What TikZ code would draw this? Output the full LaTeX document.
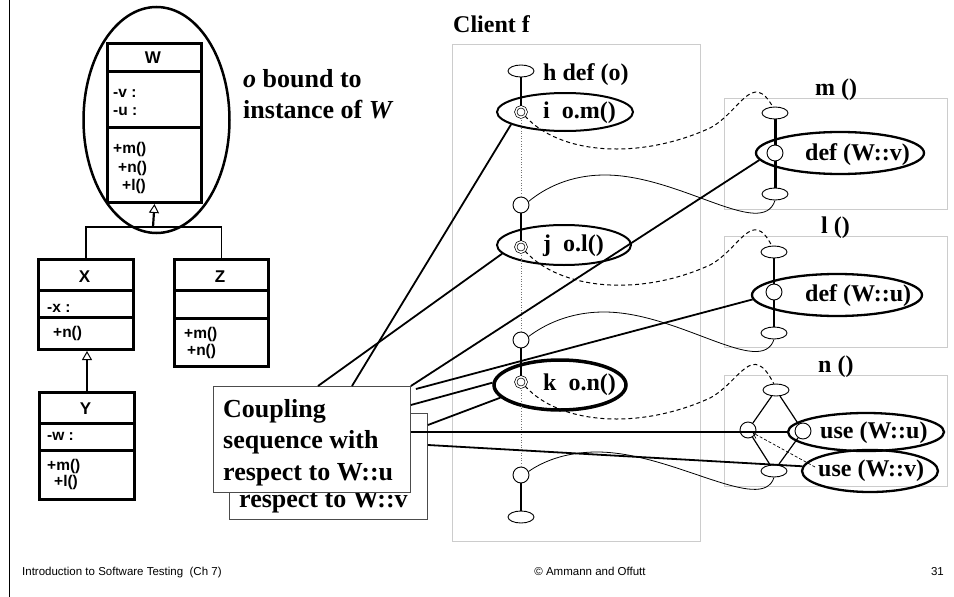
\documentclass[tikz,border=0pt]{standalone}
\usepackage{fontspec}
\setmainfont{Liberation Serif}
\newfontfamily\umlfont{Liberation Sans Bold}
\newfontfamily\footfont{Liberation Sans}
\usetikzlibrary{shapes.geometric,arrows.meta,calc}
\begin{document}
\begin{tikzpicture}[x=1pt,y=-1pt,
  gbox/.style={draw=black!20, line width=0.9pt, rectangle, inner sep=0pt, anchor=north west},
  cbox/.style={draw=black!70, fill=white, line width=0.9pt, rectangle, inner sep=0pt, anchor=north west},
  umlbox/.style={draw, line width=3pt, rectangle, inner sep=0pt, anchor=north west},
  umlh/.style={font=\umlfont\fontsize{17}{20}\selectfont, anchor=base, inner sep=0pt},
  umlt/.style={font=\umlfont\fontsize{15.5}{18}\selectfont, anchor=base west, inner sep=0pt},
  lbl/.style={font=\fontsize{24}{28}\selectfont\bfseries, anchor=base west, inner sep=0pt},
  big/.style={font=\fontsize{26}{31}\selectfont\bfseries, anchor=base west, inner sep=0pt},
  foot/.style={font=\footfont\fontsize{11.5}{13}\selectfont, inner sep=0pt},
  oval/.style={draw, ellipse, minimum width=26pt, minimum height=12pt, inner sep=0pt, line width=0.9pt},
  dot/.style={draw, circle, minimum size=16pt, inner sep=0pt, line width=0.9pt},
  dcirc/.style={draw, circle, double, double distance=1.5pt, line width=0.7pt, minimum size=10.5pt, inner sep=0pt},
  callov/.style={draw, ellipse, inner sep=0pt, line width=2pt},
  defov/.style={draw, ellipse, inner sep=0pt, line width=2.3pt},
  conn/.style={line width=1.8pt},
  ret/.style={line width=0.8pt},
  callc/.style={line width=1pt, dash pattern=on 4pt off 3pt},
  seg/.style={line width=2pt},
  dotl/.style={draw=black!55, line width=0.6pt, dotted},
  inh/.style={line width=2.2pt, -{Triangle[open, length=9pt, width=10pt, line width=1pt]}},
]
\useasboundingbox (0,0) rectangle (954,597);

% slide edge
\coordinate (edgeT) at (9.5,0);
\coordinate (edgeB) at (9.5,597);
\draw[line width=1.5pt] (edgeT) -- (edgeB);

% gray frames
\node[gbox, minimum width=248pt, minimum height=497pt] (clientbox) at (452,44) {};
\node[gbox, minimum width=223pt, minimum height=111pt] (mbox) at (724,98) {};
\node[gbox, minimum width=223pt, minimum height=111pt] (lbox) at (724,236) {};
\node[gbox, minimum width=223pt, minimum height=111pt] (nbox) at (724,375) {};

% ---------------- UML ----------------
\node[draw, ellipse, line width=2.5pt, minimum width=146pt, minimum height=226pt, inner sep=0pt] (Wov) at (156.5,120) {};
\node[umlbox, minimum width=94pt, minimum height=159pt] (W) at (106,42) {};
\draw[line width=3pt] ($(W.north west)+(0,29)$) -- ($(W.north east)+(0,29)$);
\draw[line width=3pt] ($(W.north west)+(0,85)$) -- ($(W.north east)+(0,85)$);
\node[umlh] (Wn) at (153,63) {W};
\node[umlt] (Wa1) at (113,97) {-v :};
\node[umlt] (Wa2) at (113,115) {-u :};
\node[umlt] (Wm1) at (113,153) {+m()};
\node[umlt] (Wm2) at (118,172) {+n()};
\node[umlt] (Wm3) at (122,190) {+l()};

\node[umlbox, minimum width=95pt, minimum height=90pt] (X) at (37,258) {};
\draw[line width=3pt] ($(X.north west)+(0,32)$) -- ($(X.north east)+(0,32)$);
\draw[line width=3pt] ($(X.north west)+(0,59)$) -- ($(X.north east)+(0,59)$);
\node[umlh] (Xn) at (84.5,282) {X};
\node[umlt] (Xa1) at (47,312) {-x :};
\node[umlt] (Xm1) at (53,337) {+n()};

\node[umlbox, minimum width=94pt, minimum height=107pt] (Z) at (173,258) {};
\draw[line width=3pt] ($(Z.north west)+(0,32)$) -- ($(Z.north east)+(0,32)$);
\draw[line width=3pt] ($(Z.north west)+(0,60)$) -- ($(Z.north east)+(0,60)$);
\node[umlh] (Zn) at (220,282) {Z};
\node[umlt] (Zm1) at (184,338) {+m()};
\node[umlt] (Zm2) at (187,355) {+n()};

\node[umlbox, minimum width=95pt, minimum height=107pt] (Y) at (38,391) {};
\draw[line width=3pt] ($(Y.north west)+(0,32)$) -- ($(Y.north east)+(0,32)$);
\draw[line width=3pt] ($(Y.north west)+(0,59)$) -- ($(Y.north east)+(0,59)$);
\node[umlh] (Yn) at (85.5,414) {Y};
\node[umlt] (Ya1) at (47,440) {-w :};
\node[umlt] (Ym1) at (47,470) {+m()};
\node[umlt] (Ym2) at (54,486) {+l()};

\coordinate (jn) at (153,227);
\draw[inh] (jn) -- (W.south);
\draw[line width=1.3pt] (X.north) |- (jn) -| (Z.north);
\draw[inh] (Y.north) -- (Y.north |- X.south);

\node[big] (ob1) at (243,87) {\textit{o} bound to};
\node[big] (ob2) at (243,118) {instance of \textit{W}};

% ---------------- Coupling boxes ----------------
\node[cbox, minimum width=198pt, minimum height=106pt] (cpv) at (229,413) {};
\node[big] (cpvt) at (239,507) {respect to W::v};
\node[cbox, minimum width=197pt, minimum height=106pt] (cpu) at (213,386) {};
\node[big] (cpt1) at (223,417) {Coupling};
\node[big] (cpt2) at (223,448) {sequence with};
\node[big] (cpt3) at (223,480) {respect to W::u};

% ---------------- Client f ----------------
\node[lbl] (clientt) at (453,32) {Client f};
\node[oval] (hE) at (521,71) {};
\node[lbl] (hT) at (543,80) {h def (o)};
\node[callov, minimum width=136pt, minimum height=38pt] (iE) at (565,112) {};
\node[dcirc] (iC) at (521,112) {};
\node[lbl] (iT) at (543,118) {i~~o.m()};
\node[dot] (c1) at (521,205) {};
\node[callov, minimum width=134pt, minimum height=40pt] (jE) at (564,245) {};
\node[dcirc] (jC) at (521,247) {};
\node[lbl] (jT) at (543,251) {j~~o.l()};
\node[dot] (c2) at (521,340) {};
\node[callov, line width=3.5pt, minimum width=132pt, minimum height=50pt] (kE) at (560,385) {};
\node[dcirc] (kC) at (521,382) {};
\node[lbl] (kT) at (543,390) {k~~o.n()};
\node[dot] (c3) at (521,475) {};
\node[oval] (zE) at (521,517) {};

\draw[seg] (hE) -- (iC);
\draw[seg] (c1) -- (jC);
\draw[seg] (c2) -- (kC);
\draw[seg] (c3) -- (zE);
\draw[dotl] (iC) -- (c1);
\draw[dotl] (jC) -- (c2);
\draw[dotl] (kC) -- (c3);

% ---------------- m () ----------------
\node[lbl] (mT) at (815,95) {m ()};
\node[oval] (mTop) at (775,113) {};
\node[dot] (mC) at (775,153) {};
\node[oval] (mBot) at (775,194) {};
\node[defov, minimum width=168pt, minimum height=42pt] (defv) at (840,153) {};
\node[lbl] (defvT) at (805,160) {def (W::v)};
\draw[line width=3pt] (mTop) -- (mC);
\draw[line width=3pt] (mC) -- (mBot);

% ---------------- l () ----------------
\node[lbl] (lT) at (821,233) {l ()};
\node[oval] (lTop) at (774,252) {};
\node[dot] (lC) at (774,292) {};
\node[oval] (lBot) at (774,333) {};
\node[defov, minimum width=170pt, minimum height=42pt] (defu) at (837,295) {};
\node[lbl] (defuT) at (805,301) {def (W::u)};
\draw[seg] (lTop) -- (lC);
\draw[seg] (lC) -- (lBot);

% ---------------- n () ----------------
\node[lbl] (nT) at (818,372) {n ()};
\node[oval] (nTop) at (776,390) {};
\node[dot] (nL) at (748,430) {};
\node[dot] (nR) at (803,431) {};
\node[oval] (nBot) at (774,471) {};
\node[defov, minimum width=156pt, minimum height=38pt] (useu) at (866,432) {};
\node[lbl] (useuT) at (820,438) {use (W::u)};
\node[defov, minimum width=136pt, minimum height=42pt] (usev) at (870,471) {};
\node[lbl] (usevT) at (818,476) {use (W::v)};
\draw[line width=1.2pt] (nTop) -- (nL);
\draw[line width=1.2pt] (nTop) -- (nR);
\draw[line width=1.2pt] (nL) -- (nBot);
\draw[line width=1.2pt] (nR) -- (nBot);
\coordinate (vtail) at (815,467);
\draw[line width=0.7pt, dash pattern=on 3pt off 2pt, -{Straight Barb[length=5pt, width=7pt]}, shorten >=-3pt] (vtail) -- (nL.-30);

% ---------------- call (dashed) edges ----------------
\draw[callc] (iC.-45) .. controls (560,155) and (640,160) .. (710,128)
  .. controls (740,112) and (752,70) .. (mTop.110);
\draw[callc] (jC.-45) .. controls (560,290) and (640,297) .. (710,265)
  .. controls (740,249) and (752,207) .. (lTop.110);
\draw[callc] (kC.-45) .. controls (560,425) and (640,430) .. (710,398)
  .. controls (740,382) and (752,340) .. (nTop.110);

% ---------------- return (thin) edges ----------------
\draw[ret] (mBot.south) .. controls (762,240) and (680,175) .. (605,175)
  .. controls (570,175) and (545,188) .. (c1.25);
\draw[ret] (lBot.south) .. controls (761,378) and (679,312) .. (604,312)
  .. controls (569,312) and (544,325) .. (c2.25);
\draw[ret] (nBot.south) .. controls (762,515) and (672,452) .. (597,452)
  .. controls (565,452) and (542,462) .. (c3.25);

% ---------------- coupling connectors ----------------
\draw[conn] ($(cpu.north west)+(139,0)$) -- (iE.193);
\draw[conn] ($(cpu.north west)+(105,0)$) -- (jE.188);
\draw[conn] (cpu.north east) -- (defv.185);
\draw[conn] ($(cpu.north east)+(5,3)$) -- (defu.183);
\draw[conn] ($(cpu.north east)+(0,19)$) -- (kE.178);
\draw[conn] ($(cpv.north east)+(0,12)$) -- (kE.192);
\draw[conn] (cpu.east |- useu.west) -- (useu.west);
\draw[conn] ($(cpv.north east)+(0,32)$) -- (usev.176);

% ---------------- footer ----------------
\node[foot, anchor=base west] (ft1) at (22,575) {Introduction to Software Testing\ \ (Ch 7)};
\node[foot, anchor=base] (ft2) at (590,575) {\textcopyright\ Ammann and Offutt};
\node[foot, anchor=base east] (ft3) at (944,575) {31};
\end{tikzpicture}
\end{document}
